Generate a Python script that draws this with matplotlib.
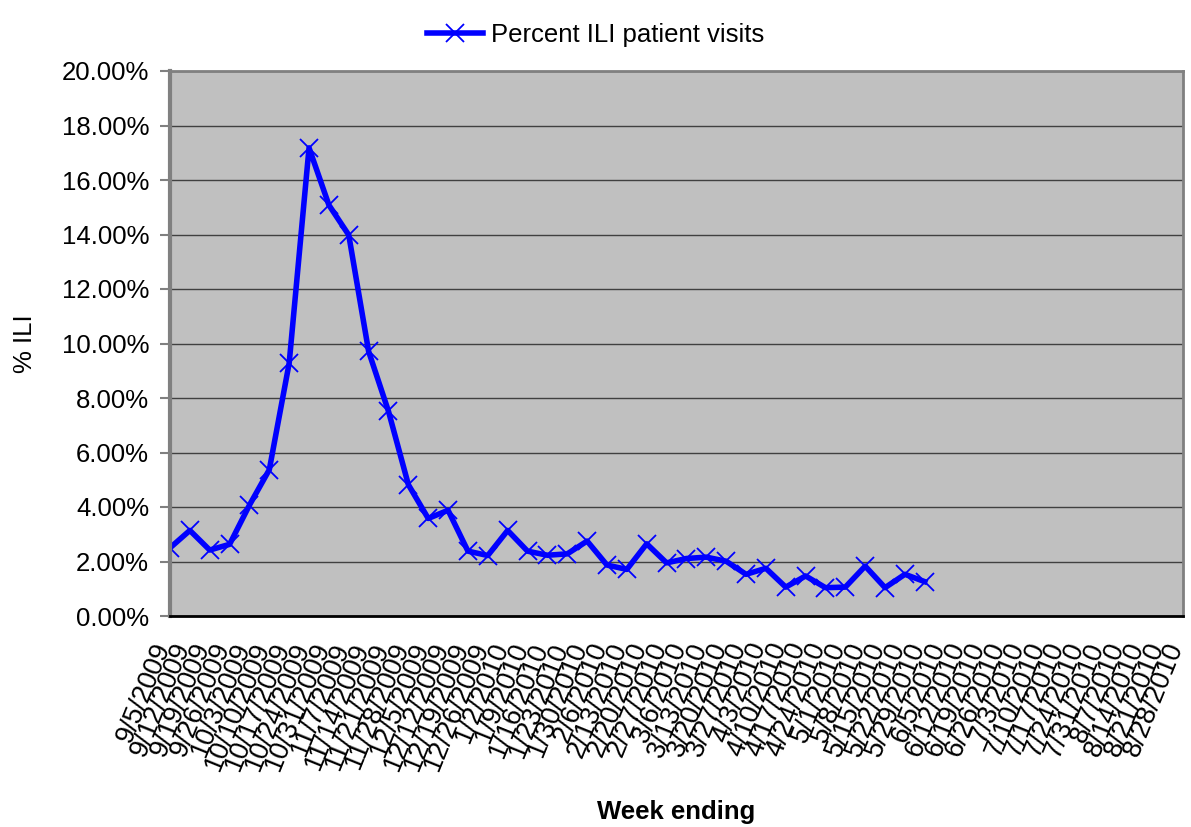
import matplotlib.pyplot as plt
from matplotlib.ticker import FuncFormatter
from matplotlib.transforms import ScaledTranslation

plt.rcParams['font.family'] = ['Liberation Sans', 'DejaVu Sans']

# weeks ending 9/5/2009 .. 8/28/2010
weeks = ['9/5/2009', '9/12/2009', '9/19/2009', '9/26/2009', '10/3/2009', '10/10/2009',
         '10/17/2009', '10/24/2009', '10/31/2009', '11/7/2009', '11/14/2009', '11/21/2009',
         '11/28/2009', '12/5/2009', '12/12/2009', '12/19/2009', '12/26/2009', '1/2/2010',
         '1/9/2010', '1/16/2010', '1/23/2010', '1/30/2010', '2/6/2010', '2/13/2010',
         '2/20/2010', '2/27/2010', '3/6/2010', '3/13/2010', '3/20/2010', '3/27/2010',
         '4/3/2010', '4/10/2010', '4/17/2010', '4/24/2010', '5/1/2010', '5/8/2010',
         '5/15/2010', '5/22/2010', '5/29/2010', '6/5/2010', '6/12/2010', '6/19/2010',
         '6/26/2010', '7/3/2010', '7/10/2010', '7/17/2010', '7/24/2010', '7/31/2010',
         '8/7/2010', '8/14/2010', '8/21/2010', '8/28/2010']

# percent ILI patient visits (only reported through late May)
ili = [2.50, 3.14, 2.42, 2.63, 4.07, 5.37, 9.28, 17.18, 15.08, 13.98,
       9.71, 7.51, 4.82, 3.58, 3.88, 2.38, 2.22, 3.14, 2.38, 2.23,
       2.28, 2.75, 1.87, 1.71, 2.65, 1.95, 2.11, 2.16, 2.01, 1.53,
       1.75, 1.06, 1.47, 1.04, 1.06, 1.83, 1.04, 1.53, 1.26]

fig = plt.figure(figsize=(11.91, 8.27), dpi=100)
ax = fig.add_axes([170 / 1191, 1 - 616 / 827, 1013 / 1191, 545 / 827])
ax.set_facecolor('#c0c0c0')

ax.plot(range(len(ili)), ili, color='#0000ff', lw=4, marker='x',
        markersize=13, markeredgewidth=1.3, label='Percent ILI patient visits')

ax.set_xlim(0, len(weeks) - 1)
ax.set_ylim(0, 20)
ax.set_yticks(range(0, 21, 2))
ax.yaxis.set_major_formatter(FuncFormatter(lambda v, p: f'{v:.2f}%'))
ax.grid(axis='y', color='#404040', lw=1)
ax.set_axisbelow(True)

ax.set_xticks(range(len(weeks)))
ax.set_xticklabels(weeks, rotation=68, ha='right', va='center',
                   rotation_mode='anchor', fontsize=19.5)
ax.tick_params(axis='x', length=0, pad=20)
shift = ScaledTranslation(-6 / 100, 0, fig.dpi_scale_trans)
for lbl in ax.get_xticklabels():
    lbl.set_transform(lbl.get_transform() + shift)
ax.tick_params(axis='y', labelsize=18.5, length=7, width=1.5,
               color='#808080', pad=8)

for s in ['left', 'top', 'right']:
    ax.spines[s].set_color('#808080')
    ax.spines[s].set_linewidth(2)
ax.spines['left'].set_linewidth(3)
ax.spines['bottom'].set_color('black')
ax.spines['bottom'].set_linewidth(2)

ax.set_ylabel('% ILI', fontsize=18.5, labelpad=18)
ax.set_xlabel('Week ending', fontsize=18.5, fontweight='bold')
ax.xaxis.set_label_coords(0.5, -0.338)

fig.legend(loc='upper center', bbox_to_anchor=(0.5, 1.0), frameon=False,
           fontsize=18.5, handlelength=2.2, handletextpad=0.3)

fig.savefig('out.png', dpi=100)
